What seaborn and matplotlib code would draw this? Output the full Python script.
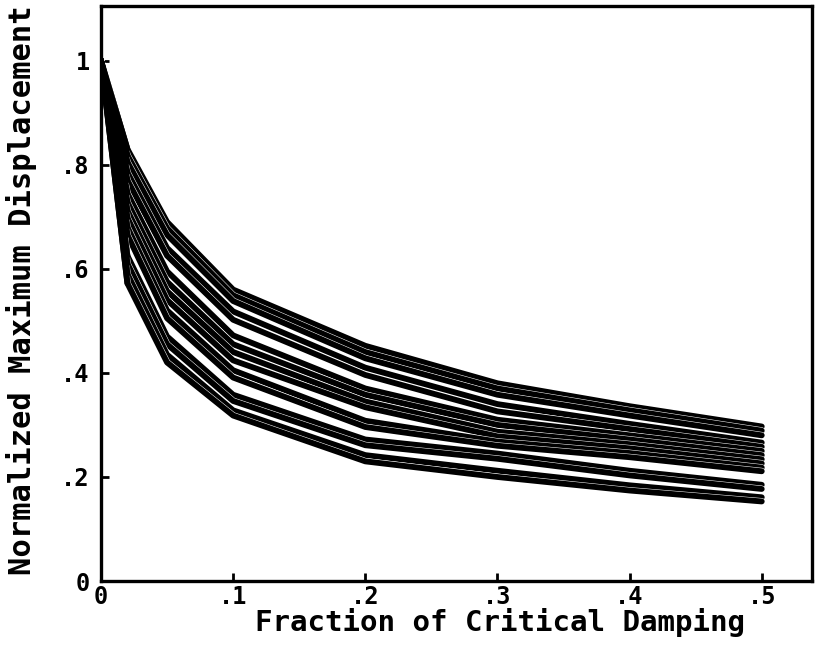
import pandas as pd
import matplotlib
matplotlib.use("Agg")
import matplotlib.pyplot as plt
import matplotlib.patheffects as pe
import seaborn as sns

sns.set_style("ticks")
plt.rcParams['font.family'] = ['DejaVu Sans Mono', 'DejaVu Sans']
plt.rcParams['font.weight'] = 'bold'
plt.rcParams['text.color'] = 'black'
plt.rcParams['axes.labelcolor'] = 'black'

# fraction of critical damping
damping = [0.0, 0.02, 0.05, 0.1, 0.2, 0.3, 0.4, 0.5]

# normalized maximum displacement, one list per record
curve_a1 = [1.0, 0.830, 0.690, 0.560, 0.452, 0.380, 0.336, 0.297]
curve_a2 = [1.0, 0.818, 0.678, 0.549, 0.440, 0.370, 0.328, 0.289]
curve_a3 = [1.0, 0.805, 0.665, 0.538, 0.428, 0.358, 0.318, 0.280]
curve_b1 = [1.0, 0.785, 0.640, 0.518, 0.410, 0.340, 0.302, 0.266]
curve_b2 = [1.0, 0.770, 0.625, 0.502, 0.396, 0.326, 0.292, 0.258]
curve_c1 = [1.0, 0.745, 0.595, 0.472, 0.370, 0.310, 0.280, 0.250]
curve_c2 = [1.0, 0.728, 0.575, 0.455, 0.358, 0.300, 0.272, 0.242]
curve_c3 = [1.0, 0.712, 0.557, 0.440, 0.345, 0.287, 0.263, 0.234]
curve_c4 = [1.0, 0.698, 0.540, 0.424, 0.334, 0.278, 0.255, 0.226]
curve_d1 = [1.0, 0.680, 0.520, 0.405, 0.308, 0.268, 0.246, 0.218]
curve_d2 = [1.0, 0.665, 0.505, 0.391, 0.296, 0.260, 0.238, 0.211]
curve_e1 = [1.0, 0.625, 0.470, 0.358, 0.272, 0.245, 0.212, 0.185]
curve_e2 = [1.0, 0.610, 0.455, 0.346, 0.261, 0.235, 0.203, 0.177]
curve_f1 = [1.0, 0.590, 0.435, 0.328, 0.242, 0.212, 0.184, 0.161]
curve_f2 = [1.0, 0.572, 0.420, 0.318, 0.230, 0.200, 0.174, 0.153]

curves = [curve_a1, curve_a2, curve_a3, curve_b1, curve_b2, curve_c1, curve_c2,
          curve_c3, curve_c4, curve_d1, curve_d2, curve_e1, curve_e2, curve_f1, curve_f2]

xtick_vals = [0, 0.1, 0.2, 0.3, 0.4, 0.5]
xtick_labels = ['0', '.1', '.2', '.3', '.4', '.5']
ytick_vals = [0, 0.2, 0.4, 0.6, 0.8, 1.0]
ytick_labels = ['0', '.2', '.4', '.6', '.8', '1']

rows = []
for i, c in enumerate(curves):
    for x, y in zip(damping, c):
        rows.append({'curve': i, 'damping': x, 'disp': y})
df = pd.DataFrame(rows)

fig = plt.figure(figsize=(8.21, 6.5), dpi=100)
ax = fig.add_axes([0.123, 0.106, 0.866, 0.885])

black = ['black'] * len(curves)
sns.lineplot(data=df, x='damping', y='disp', hue='curve', units='curve',
             estimator=None, palette=black, legend=False, linewidth=4.2, ax=ax)
for ln in ax.get_lines():
    ln.set_path_effects([pe.Stroke(linewidth=4.9, foreground='white'), pe.Normal()])

# the bundle merges into solid black near zero damping
sns.lineplot(data=df[df['damping'] <= 0.02], x='damping', y='disp', hue='curve',
             units='curve', estimator=None, palette=black, legend=False,
             linewidth=4.2, ax=ax)

ax.set_xlim(0, 0.538)
ax.set_ylim(0, 1.105)
ax.set_xticks(xtick_vals)
ax.set_xticklabels(xtick_labels)
ax.set_yticks(ytick_vals)
ax.set_yticklabels(ytick_labels)
ax.tick_params(axis='both', direction='in', length=6, width=2, labelsize=17,
               colors='black', pad=8)
ax.tick_params(axis='x', pad=3)
for s in ax.spines.values():
    s.set_linewidth(2.4)
    s.set_color('black')

ax.set_xlabel('Fraction of Critical Damping', fontsize=21, fontweight='bold')
ax.xaxis.set_label_coords(0.561, -0.046)
ax.set_ylabel('Normalized Maximum Displacement', fontsize=22, fontweight='bold')
ax.yaxis.set_label_coords(-0.09, 0.505)

fig.savefig('out.png', dpi=100)
